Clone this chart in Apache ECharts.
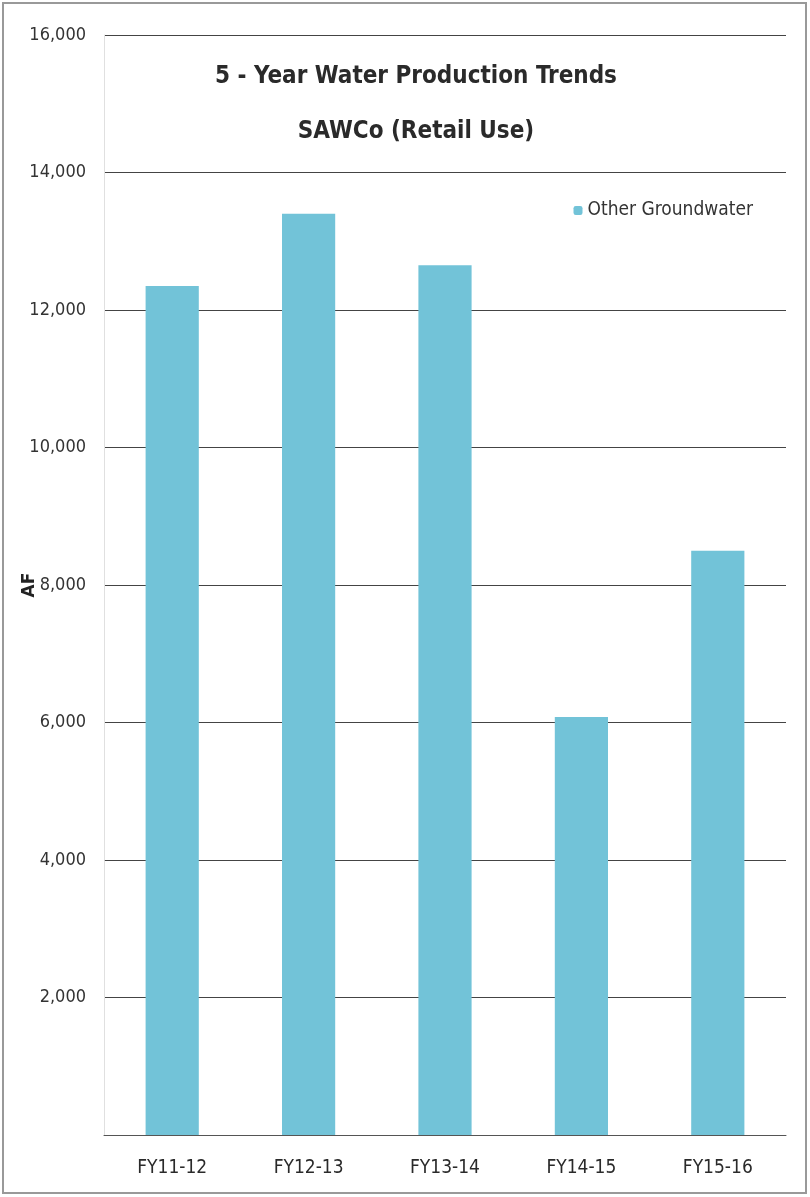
<!DOCTYPE html>
<html><head><meta charset="utf-8">
<script src="https://cdn.jsdelivr.net/npm/echarts@6/dist/echarts.min.js"></script>
<style>html,body{margin:0;padding:0;background:#fff}#c{width:810px;height:1197px}</style>
</head><body><div id="c"></div>
<script>
const categories = ["FY11-12","FY12-13","FY13-14","FY14-15","FY15-16"];
const groundwater = [12350, 13400, 12650, 6080, 8500];
const seriesName = "Other Groundwater";
const titleLines = ["5 - Year Water Production Trends","SAWCo (Retail Use)"];
const yName = "AF";
const FONT = "'DejaVu Sans Condensed','Liberation Sans Narrow',sans-serif";
const chart = echarts.init(document.getElementById('c'));
chart.setOption({
  animation:false,
  backgroundColor:'#fff',
  title:{text:titleLines.join('\n'), left:411, top:44, textAlign:'center',
    textStyle:{fontFamily:FONT,fontWeight:'bold',fontSize:24,color:'#2a2a2a',lineHeight:55}},
  legend:{data:[seriesName], right:52, top:196, itemWidth:9, itemHeight:9, itemGap:5,
    textStyle:{fontFamily:FONT,fontSize:19,color:'#333'}},
  grid:{left:104, right:24, top:35, bottom:62, containLabel:false, outerBoundsMode:'none'},
  xAxis:{type:'category', data:categories,
    axisLine:{lineStyle:{color:'#555',width:1}}, axisTick:{show:false},
    axisLabel:{fontFamily:FONT,fontSize:19,color:'#2a2a2a',margin:24}},
  yAxis:{type:'value', min:0, max:16000, interval:2000, name:yName,
    nameLocation:'middle', nameGap:66, nameRotate:90, nameMoveOverlap:false,
    nameTextStyle:{fontFamily:'DejaVu Sans',fontWeight:'bold',fontSize:17,color:'#222'},
    axisLine:{show:true,lineStyle:{color:'#e0e0e0'}}, axisTick:{show:false},
    axisLabel:{fontFamily:FONT,fontSize:18,color:'#333',margin:18,
      formatter:v=> v===0 ? '' : v.toLocaleString('en-US')},
    splitLine:{lineStyle:{color:'#444',width:1}}},
  series:[{name:seriesName,type:'bar',data:groundwater,barWidth:'39%',
    itemStyle:{color:'#72c3d8'}}],
  graphic:[{type:'rect',shape:{x:3,y:3,width:803,height:1190},
    style:{fill:'none',stroke:'#999',lineWidth:2},silent:true}]
});
</script></body></html>
